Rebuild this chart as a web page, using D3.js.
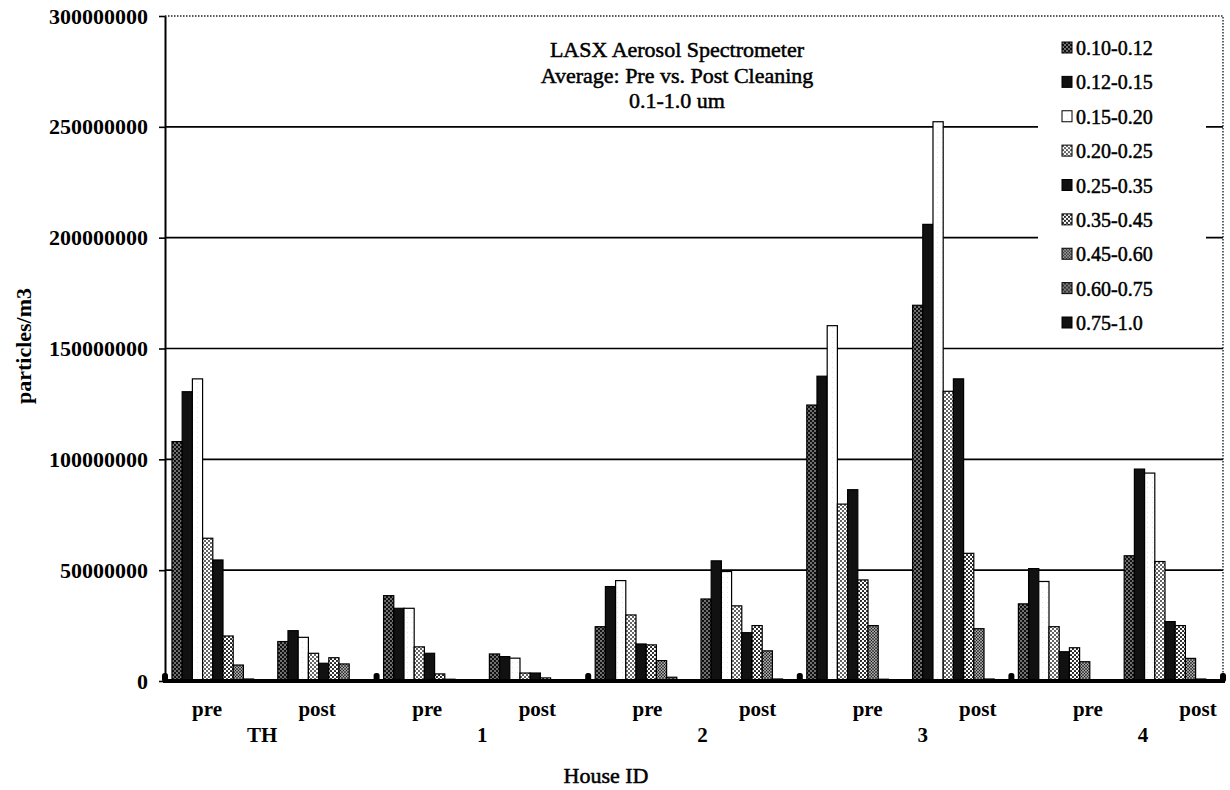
<!DOCTYPE html>
<html><head><meta charset="utf-8">
<script src="https://cdn.jsdelivr.net/npm/d3@7"></script>
<style>
html,body{margin:0;padding:0;background:#fff;}
svg{display:block;font-family:"Liberation Serif","Times New Roman",serif;}
</style></head><body>
<svg id="chart" width="1230" height="790"></svg>
<script>
// ---------------- data ----------------
const houses = ["TH", "1", "2", "3", "4"];
const phases = ["pre", "post"];
const seriesNames = ["0.10-0.12", "0.12-0.15", "0.15-0.20", "0.20-0.25", "0.25-0.35",
                     "0.35-0.45", "0.45-0.60", "0.60-0.75", "0.75-1.0"];
// values per group: TH pre, TH post, 1 pre, 1 post, 2 pre, 2 post, 3 pre, 3 post, 4 pre, 4 post
const s010_012 = [108000000, 17800000, 38500000, 12200000, 24500000, 37000000, 124500000, 169500000, 34800000, 56500000];
const s012_015 = [130500000, 22700000, 32800000, 11000000, 42600000, 54200000, 137500000, 206000000, 50700000, 95600000];
const s015_020 = [136300000, 19700000, 32800000, 10300000, 45300000, 49400000, 160300000, 252300000, 44900000, 93800000];
const s020_025 = [64400000, 12500000, 15400000, 3600000, 29800000, 33900000, 79800000, 130700000, 24500000, 53900000];
const s025_035 = [54600000, 8000000, 12500000, 3600000, 16700000, 21800000, 86300000, 136300000, 13200000, 26800000];
const s035_045 = [20300000, 10500000, 3200000, 1400000, 16300000, 25000000, 45600000, 57600000, 15000000, 25000000];
const s045_060 = [7200000, 7700000, 800000, 400000, 9200000, 13600000, 25000000, 23600000, 8700000, 10200000];
const s060_075 = [900000, 600000, 400000, 200000, 1700000, 900000, 800000, 900000, 600000, 900000];
const s075_100 = [200000, 100000, 100000, 50000, 200000, 200000, 200000, 200000, 100000, 200000];
const seriesValues = [s010_012, s012_015, s015_020, s020_025, s025_035, s035_045, s045_060, s060_075, s075_100];

const yTicks = [0, 50000000, 100000000, 150000000, 200000000, 250000000, 300000000];
const titleLines = ["LASX Aerosol Spectrometer", "Average: Pre vs. Post Cleaning", "0.1-1.0 um"];
const yTitle = "particles/m3";
const xTitle = "House ID";

// ---------------- layout ----------------
const W = 1230, H = 790;
const L = 165, R = 1223, T = 16, B = 681;
const svg = d3.select("#chart");

// patterns
const defs = svg.append("defs");
function pat(id, size, bg, dots, r, dotColor) {
  const p = defs.append("pattern").attr("id", id).attr("patternUnits", "userSpaceOnUse")
    .attr("width", size).attr("height", size);
  p.append("rect").attr("width", size).attr("height", size).attr("fill", bg);
  dots.forEach(d => p.append("circle").attr("cx", d[0]).attr("cy", d[1]).attr("r", r).attr("fill", dotColor));
}
pat("pDark", 4, "#111", [[1, 1], [3, 3]], 0.75, "#fff");
pat("pWhite", 5, "#fff", [[2.5, 2.5]], 0.35, "#999");
pat("pLight", 4, "#fff", [[1, 1], [3, 3]], 0.95, "#222");
pat("pCheck", 4, "#fff", [[1, 1], [3, 3]], 1.05, "#111");
pat("pMed", 3, "#fff", [[1.5, 1.5], [0, 0], [3, 0], [0, 3], [3, 3]], 0.95, "#111");
pat("pS8", 4, "#333", [[1, 1], [3, 3]], 0.8, "#ddd");
const fills = ["url(#pDark)", "#111", "url(#pWhite)", "url(#pLight)", "#111",
               "url(#pCheck)", "url(#pMed)", "url(#pS8)", "#111"];
const color = d3.scaleOrdinal().domain(seriesNames).range(fills);

const groups = houses.flatMap(h => phases.map(p => h + "|" + p));
const x0 = d3.scaleBand().domain(groups).range([L, R]).paddingInner(0.132).paddingOuter(0.066);
const x1 = d3.scaleBand().domain(seriesNames).range([0, x0.bandwidth()]);
const y = d3.scaleLinear().domain([0, 300000000]).range([B, T]);

// gridlines
svg.append("g").selectAll("line")
  .data(yTicks.filter(t => t > 0 && t < 300000000))
  .join("line")
  .attr("x1", L).attr("x2", R).attr("y1", d => y(d)).attr("y2", d => y(d))
  .attr("stroke", "#000").attr("stroke-width", 1.6);

// dotted plot border (top + right)
svg.append("path")
  .attr("d", `M${L},${y(300000000)}H${R}V${B}`)
  .attr("fill", "none").attr("stroke", "#222").attr("stroke-width", 1.4)
  .attr("stroke-dasharray", "1.5,1.5");

// bars
const rows = [];
groups.forEach((g, gi) => seriesNames.forEach((s, si) => rows.push({ g, s, v: seriesValues[si][gi] })));
svg.append("g").selectAll("rect")
  .data(rows)
  .join("rect")
  .attr("x", d => x0(d.g) + x1(d.s))
  .attr("width", x1.bandwidth())
  .attr("y", d => y(d.v))
  .attr("height", d => B - y(d.v))
  .attr("fill", d => color(d.s))
  .attr("stroke", "#000").attr("stroke-width", 1.2);

// legend
const legendY = d3.scalePoint().domain(seriesNames).range([48, 323]);
const lg = svg.append("g");
lg.append("rect").attr("x", 1038).attr("y", 22).attr("width", 168).attr("height", 316).attr("fill", "#fff");
const li = lg.selectAll("g.item").data(seriesNames).join("g").attr("class", "item")
  .attr("transform", d => `translate(0,${legendY(d)})`);
li.append("rect").attr("x", 1062).attr("y", -6).attr("width", 10).attr("height", 11)
  .attr("fill", d => color(d)).attr("stroke", "#000").attr("stroke-width", 1);
li.append("text").attr("x", 1076).attr("dy", "0.35em").attr("font-size", 20)
  .attr("fill", "#000").attr("stroke", "#000").attr("stroke-width", 0.5).text(d => d);

// y axis
const yAxis = d3.axisLeft(y).tickValues(yTicks).tickFormat(d3.format("d"))
  .tickSize(6).tickSizeOuter(0).tickPadding(11);
const ya = svg.append("g").attr("transform", `translate(${L},0)`).call(yAxis);
ya.select(".domain").attr("stroke", "#000").attr("stroke-width", 2);
ya.selectAll(".tick line").attr("stroke", "#000").attr("stroke-width", 1.6);
ya.selectAll(".tick text").attr("font-size", 22).attr("font-weight", "bold")
  .attr("font-family", "'Liberation Serif','Times New Roman',serif").attr("fill", "#000");

// x axis baseline
svg.append("line").attr("x1", L - 2).attr("x2", R + 2).attr("y1", B).attr("y2", B)
  .attr("stroke", "#000").attr("stroke-width", 4);
// house boundary tick marks
const boundaries = d3.range(0, groups.length + 1, 2).map(i => L + i * x0.step());
svg.append("g").selectAll("rect").data(boundaries).join("rect")
  .attr("x", d => d - 3).attr("y", B - 8).attr("width", 6).attr("height", 9)
  .attr("rx", 2.5).attr("fill", "#000");

// x labels
const labelX = d3.scalePoint().domain(groups).range([L + 42, R - 25]);
svg.append("g").selectAll("text").data(groups).join("text")
  .attr("x", d => labelX(d)).attr("y", 716).attr("text-anchor", "middle")
  .attr("font-size", 21).attr("font-weight", "bold").text(d => d.split("|")[1]);
svg.append("g").selectAll("text").data(houses).join("text")
  .attr("x", h => (labelX(h + "|pre") + labelX(h + "|post")) / 2).attr("y", 742)
  .attr("text-anchor", "middle").attr("font-size", 21).attr("font-weight", "bold").text(h => h);

// axis titles
svg.append("text").attr("x", 606).attr("y", 783).attr("text-anchor", "middle")
  .attr("font-size", 22).attr("stroke", "#000").attr("stroke-width", 0.5).text(xTitle);
svg.append("text").attr("transform", "translate(31,346) rotate(-90)").attr("text-anchor", "middle")
  .attr("font-size", 22).attr("font-weight", "bold").text(yTitle);

// title
svg.append("g").selectAll("text").data(titleLines).join("text")
  .attr("x", 677).attr("y", (d, i) => 57 + i * 25.5).attr("text-anchor", "middle")
  .attr("font-size", 22).attr("stroke", "#000").attr("stroke-width", 0.5).text(d => d);
</script>
</body></html>
